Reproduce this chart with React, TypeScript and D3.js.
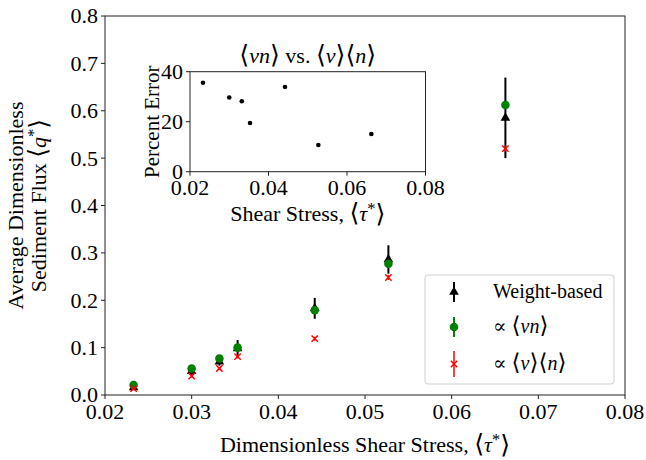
import * as d3 from "d3";
import React, { useRef, useEffect } from "react";

const W = 646;
const H = 460;

// shear stress, shared by both panels
const tau = [0.0233, 0.03, 0.0332, 0.0353, 0.0442, 0.0527, 0.0662];
// main panel series
const qWeight = [0.016, 0.05, 0.07, 0.098, 0.183, 0.286, 0.585];
const qWeightErr = [0.005, 0.008, 0.008, 0.018, 0.022, 0.03, 0.085];
const qVn = [0.021, 0.056, 0.077, 0.1, 0.179, 0.277, 0.612];
const qVnErr = [0.003, 0.004, 0.004, 0.005, 0.006, 0.007, 0.008];
const qVxN = [0.0135, 0.04, 0.056, 0.081, 0.119, 0.248, 0.52];
const qVxNErr = [0.002, 0.003, 0.003, 0.004, 0.004, 0.005, 0.006];
// inset
const percentError = [35.6, 29.7, 28.2, 19.5, 33.9, 10.7, 15.1];

const xTicks = [0.02, 0.03, 0.04, 0.05, 0.06, 0.07, 0.08];
const yTicks = [0, 0.1, 0.2, 0.3, 0.4, 0.5, 0.6, 0.7, 0.8];
const insetXTicks = [0.02, 0.04, 0.06, 0.08];
const insetYTicks = [0, 20, 40];

const FONT = "Liberation Serif, DejaVu Serif, serif";

// parts: [text, kind] where kind is "" | "i" (italic) | "b" (bracket) | "sup" | "after"
type Part = [string, string];

function mathText(sel, parts: Part[]) {
  parts.forEach(([t, kind]) => {
    const ts = sel.append("tspan").text(t);
    if (kind === "i") ts.attr("font-style", "italic");
    if (kind === "b") ts.attr("font-size", "1.15em").attr("font-family", "DejaVu Serif").attr("font-weight", 200);
    if (kind === "sup") ts.attr("font-size", "0.75em").attr("dy", "-0.45em");
    if (kind === "after") ts.attr("dy", "0.34em").attr("font-size", "1.15em").attr("font-family", "DejaVu Serif");
  });
}

const LA = "\u27E8";
const RA = "\u27E9";

function App() {
  const ref = useRef(null);

  useEffect(() => {
    const svg = d3.select(ref.current);
    svg.selectAll("*").remove();

    const x = d3.scaleLinear().domain([0.02, 0.08]).range([105, 625]);
    const y = d3.scaleLinear().domain([0, 0.8]).range([395, 16]);

    const g = svg.append("g").attr("font-family", FONT);

    // main frame
    g.append("rect")
      .attr("x", x(0.02)).attr("y", y(0.8))
      .attr("width", x(0.08) - x(0.02)).attr("height", y(0) - y(0.8))
      .attr("fill", "none").attr("stroke", "#222").attr("stroke-width", 1);

    // x ticks
    const xt = g.append("g").selectAll("g").data(xTicks).join("g")
      .attr("transform", (d) => `translate(${x(d)},${y(0)})`);
    xt.append("line").attr("y2", 4).attr("stroke", "#222");
    xt.append("text").attr("y", 24).attr("text-anchor", "middle")
      .attr("font-size", 22).text((d) => d3.format(".2f")(d));

    const yt = g.append("g").selectAll("g").data(yTicks).join("g")
      .attr("transform", (d) => `translate(${x(0.02)},${y(d)})`);
    yt.append("line").attr("x2", -4).attr("stroke", "#222");
    yt.append("text").attr("x", -7).attr("dy", "0.34em").attr("text-anchor", "end")
      .attr("font-size", 22).text((d) => d3.format(".1f")(d));

    // axis labels
    const xl = g.append("text").attr("x", (x(0.02) + x(0.08)) / 2).attr("y", 452)
      .attr("text-anchor", "middle").attr("font-size", 22);
    mathText(xl, [["Dimensionless Shear Stress, ", ""], [LA, "b"], ["\u03C4", "i"], ["*", "sup"], [RA, "after"]]);

    const yc = (y(0) + y(0.8)) / 2;
    g.append("text").attr("transform", `translate(23,${yc}) rotate(-90)`)
      .attr("text-anchor", "middle").attr("font-size", 22).text("Average Dimensionless");
    const yl2 = g.append("text").attr("transform", `translate(46,${yc}) rotate(-90)`)
      .attr("text-anchor", "middle").attr("font-size", 22);
    mathText(yl2, [["Sediment Flux ", ""], [LA, "b"], ["q", "i"], ["*", "sup"], [RA, "after"]]);

    // error bars and markers
    const errBars = (vals, errs, color, width) =>
      g.append("g").selectAll("line").data(tau).join("line")
        .attr("x1", (d) => x(d)).attr("x2", (d) => x(d))
        .attr("y1", (_, i) => y(vals[i] - errs[i]))
        .attr("y2", (_, i) => y(vals[i] + errs[i]))
        .attr("stroke", color).attr("stroke-width", width);

    const tri = d3.symbol().type(d3.symbolTriangle).size(40);
    errBars(qWeight, qWeightErr, "#000", 2);
    g.append("g").selectAll("path").data(tau).join("path")
      .attr("d", tri)
      .attr("transform", (d, i) => `translate(${x(d)},${y(qWeight[i])})`)
      .attr("fill", "#000");

    errBars(qVn, qVnErr, "green", 2);
    g.append("g").selectAll("circle").data(tau).join("circle")
      .attr("cx", (d) => x(d)).attr("cy", (_, i) => y(qVn[i]))
      .attr("r", 4.3).attr("fill", "green");

    errBars(qVxN, qVxNErr, "red", 1.5);
    const cross = d3.symbol().type(d3.symbolX).size(28);
    g.append("g").selectAll("path").data(tau).join("path")
      .attr("d", cross)
      .attr("transform", (d, i) => `translate(${x(d)},${y(qVxN[i])})`)
      .attr("fill", "none").attr("stroke", "red").attr("stroke-width", 1.5);

    // legend
    const lg = g.append("g");
    lg.append("rect").attr("x", 425).attr("y", 275).attr("width", 189).attr("height", 109)
      .attr("rx", 3).attr("fill", "white").attr("fill-opacity", 0.85)
      .attr("stroke", "#d0d0d0");
    const rows = [292, 327, 364];
    const hx = 454;
    // weight-based
    lg.append("line").attr("x1", hx).attr("x2", hx).attr("y1", rows[0] - 10).attr("y2", rows[0] + 10)
      .attr("stroke", "#000").attr("stroke-width", 2);
    lg.append("path").attr("d", tri).attr("transform", `translate(${hx},${rows[0]})`).attr("fill", "#000");
    lg.append("text").attr("x", 493).attr("y", rows[0] + 6).attr("font-size", 20).text("Weight-based");
    // vn
    lg.append("line").attr("x1", hx).attr("x2", hx).attr("y1", rows[1] - 10).attr("y2", rows[1] + 10)
      .attr("stroke", "green").attr("stroke-width", 2);
    lg.append("circle").attr("cx", hx).attr("cy", rows[1]).attr("r", 4.3).attr("fill", "green");
    const t2 = lg.append("text").attr("x", 493).attr("y", rows[1] + 6).attr("font-size", 20);
    mathText(t2, [["\u221D ", ""], [LA, "b"], ["vn", "i"], [RA, "b"]]);
    // v n
    lg.append("line").attr("x1", hx).attr("x2", hx).attr("y1", rows[2] - 13).attr("y2", rows[2] + 13)
      .attr("stroke", "red").attr("stroke-width", 1.5);
    lg.append("path").attr("d", cross).attr("transform", `translate(${hx},${rows[2]})`)
      .attr("fill", "none").attr("stroke", "red").attr("stroke-width", 1.5);
    const t3 = lg.append("text").attr("x", 493).attr("y", rows[2] + 6).attr("font-size", 20);
    mathText(t3, [["\u221D ", ""], [LA, "b"], ["v", "i"], [RA + LA, "b"], ["n", "i"], [RA, "b"]]);

    // inset
    const xi = d3.scaleLinear().domain([0.02, 0.08]).range([190, 425.5]);
    const yi = d3.scaleLinear().domain([0, 40]).range([171.7, 71.7]);
    const ig = g.append("g");
    ig.append("rect")
      .attr("x", xi(0.02)).attr("y", yi(40))
      .attr("width", xi(0.08) - xi(0.02)).attr("height", yi(0) - yi(40))
      .attr("fill", "white").attr("stroke", "#222");
    const ixt = ig.append("g").selectAll("g").data(insetXTicks).join("g")
      .attr("transform", (d) => `translate(${xi(d)},${yi(0)})`);
    ixt.append("line").attr("y2", 4).attr("stroke", "#222");
    ixt.append("text").attr("y", 23).attr("text-anchor", "middle").attr("font-size", 22)
      .text((d) => d3.format(".2f")(d));
    const iyt = ig.append("g").selectAll("g").data(insetYTicks).join("g")
      .attr("transform", (d) => `translate(${xi(0.02)},${yi(d)})`);
    iyt.append("line").attr("x2", -4).attr("stroke", "#222");
    iyt.append("text").attr("x", -7).attr("dy", "0.34em").attr("text-anchor", "end")
      .attr("font-size", 22).text((d) => String(d));
    ig.append("g").selectAll("circle").data(tau).join("circle")
      .attr("cx", (d) => xi(d)).attr("cy", (_, i) => yi(percentError[i]))
      .attr("r", 2.3).attr("fill", "#000");

    const icx = (xi(0.02) + xi(0.08)) / 2;
    const ititle = ig.append("text").attr("x", icx).attr("y", 63).attr("text-anchor", "middle")
      .attr("font-size", 22);
    mathText(ititle, [[LA, "b"], ["vn", "i"], [RA, "b"], [" vs. ", ""], [LA, "b"], ["v", "i"], [RA + LA, "b"], ["n", "i"], [RA, "b"]]);
    const ixl = ig.append("text").attr("x", icx).attr("y", 221).attr("text-anchor", "middle")
      .attr("font-size", 22);
    mathText(ixl, [["Shear Stress, ", ""], [LA, "b"], ["\u03C4", "i"], ["*", "sup"], [RA, "after"]]);
    ig.append("text").attr("transform", `translate(159,${(yi(0) + yi(40)) / 2}) rotate(-90)`)
      .attr("text-anchor", "middle").attr("font-size", 21).text("Percent Error");
  }, []);

  return (
    <div style={{ position: "absolute", left: 0, top: 0 }}>
      <svg ref={ref} width={W} height={H} style={{ display: "block", background: "white" }}></svg>
    </div>
  );
}

export default App;
